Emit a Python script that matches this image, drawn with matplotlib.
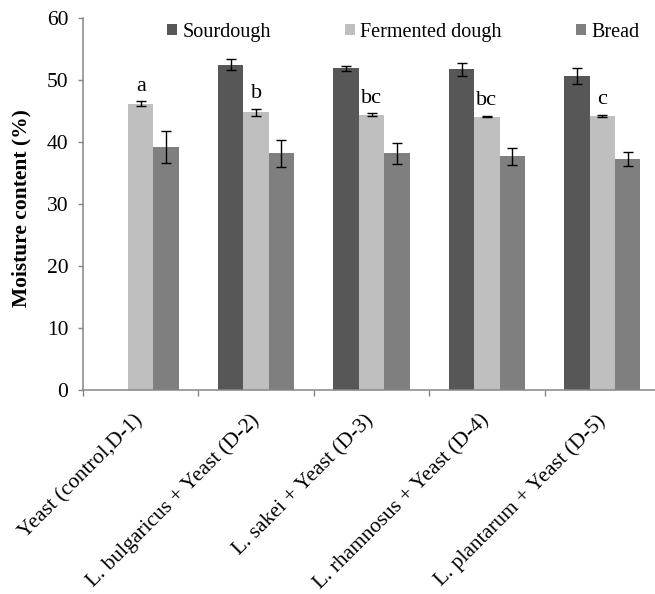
import matplotlib
matplotlib.use("Agg")
import matplotlib.pyplot as plt
import numpy as np

categories = ["Yeast (control,D-1)", "L. bulgaricus + Yeast (D-2)", "L. sakei + Yeast (D-3)",
              "L. rhamnosus + Yeast (D-4)", "L. plantarum + Yeast (D-5)"]
sourdough = [0, 52.5, 51.9, 51.7, 50.7]
sourdough_err = [0, 0.86, 0.4, 1.07, 1.3]
fermented = [46.2, 44.8, 44.4, 44.1, 44.2]
fermented_err = [0.37, 0.55, 0.25, 0.1, 0.2]
bread = [39.2, 38.2, 38.2, 37.7, 37.3]
bread_err = [2.6, 2.2, 1.7, 1.35, 1.13]
letters = ["a", "b", "bc", "bc", "c"]

plt.rcParams['font.family'] = ['Liberation Serif', 'DejaVu Serif']

fig = plt.figure(figsize=(6.55, 5.94), dpi=100)
ax = fig.add_axes([0.1267, 0.3434, 0.881, 0.6263])

c_sd, c_fd, c_br = '#575757', '#bfbfbf', '#7f7f7f'
x = np.arange(len(categories))
w = 0.22
ekw = dict(ecolor='black', elinewidth=1.0, capsize=3.6, capthick=1.0)
sd = np.array(sourdough, dtype=float)
sde = np.array(sourdough_err, dtype=float)
mask = sd > 0
ax.bar(x[mask] - w, sd[mask], w, yerr=sde[mask], color=c_sd, label='Sourdough',
       error_kw=ekw, zorder=2)
ax.bar(x, fermented, w, yerr=fermented_err, color=c_fd, label='Fermented dough',
       error_kw=ekw, zorder=2)
ax.bar(x + w, bread, w, yerr=bread_err, color=c_br, label='Bread',
       error_kw=ekw, zorder=2)

for xi, v, e, t in zip(x, fermented, fermented_err, letters):
    ax.text(xi, v + e + 1.7, t, ha='center', va='baseline', fontsize=16)

ax.set_xlim(-0.5, len(categories) - 0.5)
ax.set_ylim(0, 60)
ax.set_yticks(range(0, 61, 10))
ax.tick_params(axis='y', labelsize=15.5, direction='out', length=3.5, width=1.0,
               color='#868686', pad=7)
ax.set_xticks(x)
ax.set_xticklabels(categories, rotation=45, ha='right', va='center',
                   rotation_mode='anchor', fontsize=15.5)
ax.tick_params(axis='x', which='major', length=0, pad=20)
ax.set_xticks(np.arange(len(categories) + 1) - 0.5, minor=True)
ax.tick_params(axis='x', which='minor', direction='out', length=4, width=1.0,
               color='#868686')

for s in ['top', 'right']:
    ax.spines[s].set_visible(False)
for s in ['left', 'bottom']:
    ax.spines[s].set_color('#868686')
    ax.spines[s].set_linewidth(1.1)

ax.set_ylabel('Moisture content (%)', fontsize=15.5, fontweight='bold')
ax.yaxis.set_label_coords(-0.09, 0.49)

ax.legend(loc='center', bbox_to_anchor=(0.555, 0.962), ncol=3, frameon=False,
          fontsize=14.5, handlelength=0.5, handleheight=0.5, handletextpad=0.25,
          columnspacing=3.7, borderpad=0, borderaxespad=0)

fig.savefig('out.png', dpi=100)
